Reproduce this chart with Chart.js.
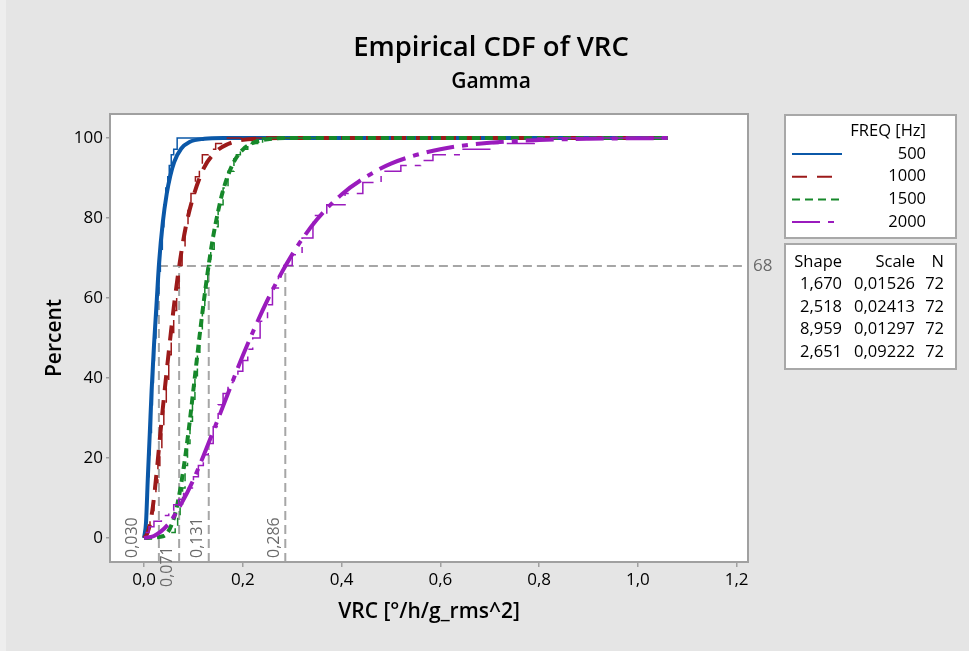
<!DOCTYPE html>
<html>
<head>
<meta charset="utf-8">
<title>Empirical CDF of VRC</title>
<script src="https://cdn.jsdelivr.net/npm/chart.js@4.4.1/dist/chart.umd.min.js"></script>
<style>
  html, body { margin: 0; padding: 0; background: #e5e5e5; }
</style>
</head>
<body>
<canvas id="cdf" width="969" height="651"></canvas>
<script>
const freqs = ['500', '1000', '1500', '2000'];

// fitted gamma curves (thick lines): [VRC, percent]
const fit500 = [[0, 0], [0.004, 4], [0.0076, 15], [0.0115, 26], [0.0153, 37], [0.02, 48], [0.025, 58], [0.0305, 69], [0.038, 79], [0.0458, 86], [0.053, 90.5], [0.061, 94], [0.075, 97.3], [0.092, 99], [0.122, 99.8], [0.16, 100], [1.06, 100]];
const fit1000 = [[0, 0], [0.006, 1], [0.0121, 3.6], [0.018, 8], [0.0241, 14.8], [0.036, 30], [0.0483, 44.6], [0.06, 57.5], [0.0724, 69], [0.084, 77.5], [0.0965, 84], [0.1207, 92.4], [0.1448, 96.5], [0.17, 98.5], [0.193, 99.4], [0.241, 99.9], [0.3, 100], [1.06, 100]];
const fit1500 = [[0, 0], [0.04, 0.5], [0.06, 4.8], [0.07, 10], [0.08, 17.4], [0.09, 26.6], [0.1, 37.2], [0.11, 48], [0.12, 58.2], [0.131, 68.4], [0.14, 75.4], [0.15, 81.7], [0.16, 86.9], [0.18, 93.6], [0.2, 97.1], [0.22, 98.75], [0.25, 99.7], [0.3, 100], [1.06, 100]];
const fit2000 = [[0, 0], [0.02, 0.5], [0.05, 3.6], [0.075, 8.5], [0.1, 14.6], [0.15, 29.8], [0.2, 45.6], [0.25, 59.5], [0.3, 70.9], [0.35, 79.6], [0.4, 85.9], [0.45, 90.3], [0.5, 93.6], [0.6, 97.2], [0.7, 98.8], [0.8, 99.5], [0.9, 99.8], [1.06, 100]];

// empirical steps (thin lines): [VRC, percent]
const emp500 = [[0.002, 1.4], [0.004, 5.6], [0.006, 9.7], [0.008, 15.3], [0.01, 20.8], [0.012, 26.4], [0.015, 33.3], [0.017, 38.9], [0.019, 44.4], [0.021, 50], [0.024, 55.6], [0.027, 61.1], [0.03, 66.7], [0.033, 72.2], [0.037, 77.8], [0.04, 83.3], [0.044, 87.5], [0.048, 90.3], [0.051, 93.1], [0.055, 95.8], [0.06, 97.2], [0.067, 100], [0.2, 100]];
const emp1000 = [[0.004, 1.4], [0.008, 2.8], [0.012, 4.2], [0.016, 6.9], [0.02, 9.7], [0.024, 13.9], [0.028, 18.1], [0.032, 22.2], [0.036, 27.8], [0.04, 33.3], [0.045, 38.9], [0.05, 45.8], [0.055, 51.4], [0.06, 56.9], [0.066, 62.5], [0.071, 68.1], [0.077, 72.2], [0.083, 77.8], [0.089, 81.9], [0.095, 86.1], [0.104, 90.3], [0.112, 93.1], [0.118, 95.8], [0.13, 97.2], [0.145, 98.6], [0.165, 100], [0.3, 100]];
const emp1500 = [[0.055, 1.4], [0.063, 2.8], [0.068, 5.6], [0.073, 8.3], [0.078, 12.5], [0.083, 18.1], [0.088, 23.6], [0.093, 29.2], [0.098, 34.7], [0.103, 40.3], [0.108, 45.8], [0.113, 51.4], [0.118, 56.9], [0.123, 62.5], [0.129, 68.1], [0.135, 72.2], [0.142, 77.8], [0.15, 83.3], [0.16, 87.5], [0.17, 91.7], [0.182, 95.8], [0.195, 97.2], [0.21, 98.6], [0.24, 100], [0.35, 100]];
const emp2000 = [[0.003, 1.4], [0.01, 2.8], [0.02, 4.2], [0.035, 5.6], [0.05, 6.9], [0.06, 8.3], [0.07, 9.7], [0.08, 11.1], [0.09, 12.5], [0.1, 15.3], [0.11, 18.1], [0.12, 20.8], [0.13, 23.6], [0.14, 27.8], [0.15, 33.3], [0.16, 36.1], [0.17, 38.9], [0.18, 40.3], [0.19, 41.7], [0.2, 44.4], [0.21, 47.2], [0.22, 50], [0.235, 54.2], [0.25, 58.3], [0.26, 62.5], [0.272, 65.3], [0.283, 68.1], [0.3, 70.8], [0.32, 75], [0.342, 80.6], [0.37, 83.3], [0.407, 86.1], [0.443, 88.9], [0.48, 91.7], [0.52, 93.1], [0.56, 94.4], [0.585, 95.8], [0.64, 97.2], [0.7, 98.6], [0.79, 100], [1.06, 100]];

const refPercent = 68;
const refValues = [0.030, 0.071, 0.131, 0.286];
const refLabels = ['0,030', '0,071', '0,131', '0,286'];

const xTicks = [0, 0.2, 0.4, 0.6, 0.8, 1.0, 1.2];
const xTickLabels = ['0,0', '0,2', '0,4', '0,6', '0,8', '1,0', '1,2'];
const yTicks = [0, 20, 40, 60, 80, 100];

const shapes = ['1,670', '2,518', '8,959', '2,651'];
const scaleParams = ['0,01526', '0,02413', '0,01297', '0,09222'];
const counts = ['72', '72', '72', '72'];

const colors = ['#0b58a8', '#9c1a1a', '#16882a', '#9a1bbd'];
const dashes = [[], [15, 10], [8, 5], [28, 8, 6, 8]];
const FONT = '"Open Sans", "Noto Sans", sans-serif';
const REF_GREY = '#a6a6a6';

const fits = [fit500, fit1000, fit1500, fit2000];
const emps = [emp500, emp1000, emp1500, emp2000];
const toPts = arr => arr.map(([x, y]) => ({ x, y }));

const datasets = [];
freqs.forEach((f, i) => {
  datasets.push({
    label: f,
    data: toPts(fits[i]),
    borderColor: colors[i],
    borderWidth: 4,
    borderDash: dashes[i],
    borderCapStyle: 'butt',
    pointRadius: 0,
    cubicInterpolationMode: 'monotone',
    order: 8 - i * 2
  });
  datasets.push({
    label: f + ' empirical',
    data: toPts(emps[i]),
    borderColor: colors[i],
    borderWidth: 1.5,
    borderDash: dashes[i],
    pointRadius: 0,
    stepped: true,
    order: 7 - i * 2
  });
});

// grey background, white plot area, reference lines, legend boxes, titles
const decor = {
  id: 'decor',
  beforeDraw(chart) {
    const { ctx, chartArea: a } = chart;
    ctx.save();
    ctx.fillStyle = '#e5e5e5';
    ctx.fillRect(0, 0, chart.width, chart.height);
    ctx.fillStyle = '#eeeeee';
    ctx.fillRect(0, 0, 6, chart.height);
    ctx.fillStyle = '#ffffff';
    ctx.fillRect(a.left, a.top, a.right - a.left, a.bottom - a.top);
    ctx.restore();
  },
  beforeDatasetsDraw(chart) {
    const { ctx, chartArea: a, scales: { x, y } } = chart;
    const yRef = y.getPixelForValue(refPercent);
    ctx.save();
    ctx.strokeStyle = REF_GREY;
    ctx.lineWidth = 2;
    ctx.setLineDash([9, 5]);
    refValues.forEach(v => {
      const px = x.getPixelForValue(v);
      ctx.beginPath();
      ctx.moveTo(px, a.bottom);
      ctx.lineTo(px, yRef);
      ctx.stroke();
    });
    ctx.beginPath();
    ctx.moveTo(x.getPixelForValue(refValues[0]), yRef);
    ctx.lineTo(a.right - 3, yRef);
    ctx.stroke();
    ctx.restore();
  },
  afterDatasetsDraw(chart) {
    const { ctx, chartArea: a, scales: { x, y } } = chart;
    ctx.save();
    // plot frame
    ctx.strokeStyle = '#a0a0a0';
    ctx.lineWidth = 2;
    ctx.strokeRect(a.left, a.top, a.right - a.left, a.bottom - a.top);

    // reference labels
    ctx.fillStyle = '#6a6a6a';
    ctx.textBaseline = 'middle';
    ctx.textAlign = 'left';
    ctx.font = '17px ' + FONT;
    ctx.fillText(String(refPercent), a.right + 5, y.getPixelForValue(refPercent));
    ctx.font = '16px ' + FONT;
    const labelShift = [26, 12, 11, 11];
    const labelBottom = [a.bottom - 4, a.bottom + 25, a.bottom - 4, a.bottom - 4];
    refLabels.forEach((t, i) => {
      ctx.save();
      ctx.translate(x.getPixelForValue(refValues[i]) - labelShift[i], labelBottom[i]);
      ctx.rotate(-Math.PI / 2);
      ctx.fillText(t, 0, 0);
      ctx.restore();
    });

    // titles
    const cx = 491;
    ctx.fillStyle = '#000';
    ctx.textAlign = 'center';
    ctx.font = '600 27.5px ' + FONT;
    ctx.fillText('Empirical CDF of VRC', cx, 48);
    ctx.font = '600 21px ' + FONT;
    ctx.fillText('Gamma', cx, 82);

    // legend box: line styles
    const bx = 785, bw = 171;
    ctx.fillStyle = '#ffffff';
    ctx.strokeStyle = '#a8a8a8';
    ctx.lineWidth = 2;
    ctx.fillRect(bx, 115, bw, 123);
    ctx.strokeRect(bx, 115, bw, 123);
    ctx.fillRect(bx, 244, bw, 125);
    ctx.strokeRect(bx, 244, bw, 125);

    ctx.font = '16.5px ' + FONT;
    ctx.fillStyle = '#000';
    ctx.textAlign = 'right';
    ctx.fillText('FREQ [Hz]', 926, 131);
    freqs.forEach((f, i) => {
      const ry = 154 + i * 22.7;
      ctx.save();
      ctx.strokeStyle = colors[i];
      ctx.lineWidth = 2;
      ctx.setLineDash(dashes[i]);
      ctx.beginPath();
      ctx.moveTo(792, ry);
      ctx.lineTo(842, ry);
      ctx.stroke();
      ctx.restore();
      ctx.fillText(f, 926, ry);
    });

    // legend box: fit parameters
    ctx.fillText('Shape', 842, 262);
    ctx.fillText('Scale', 915, 262);
    ctx.fillText('N', 944, 262);
    shapes.forEach((s, i) => {
      const ry = 284 + i * 22.8;
      ctx.fillText(s, 842, ry);
      ctx.fillText(scaleParams[i], 915, ry);
      ctx.fillText(counts[i], 944, ry);
    });
    ctx.restore();
  }
};

new Chart(document.getElementById('cdf'), {
  type: 'line',
  data: { datasets },
  options: {
    responsive: false,
    animation: false,
    devicePixelRatio: 1,
    layout: { padding: { top: 114, right: 221, left: 0, bottom: 0 } },
    plugins: { legend: { display: false }, tooltip: { enabled: false }, title: { display: false } },
    scales: {
      x: {
        type: 'linear',
        min: -0.069,
        max: 1.223,
        afterFit: s => { s.height = 89; },
        afterBuildTicks: s => { s.ticks = xTicks.map(v => ({ value: v })); },
        grid: { drawOnChartArea: false, drawTicks: true, tickLength: 5, color: '#a0a0a0', lineWidth: 1.5 },
        border: { display: false },
        ticks: {
          padding: 3,
          color: '#000',
          font: { family: FONT, size: 17 },
          maxRotation: 0,
          callback: v => xTickLabels[xTicks.indexOf(v)]
        },
        title: {
          display: true,
          text: 'VRC [°/h/g_rms^2]',
          color: '#000',
          font: { family: FONT, size: 21, weight: '600' },
          padding: { top: 0, bottom: 26 }
        }
      },
      y: {
        type: 'linear',
        min: -6,
        max: 106,
        afterFit: s => { s.width = 110; },
        afterBuildTicks: s => { s.ticks = yTicks.map(v => ({ value: v })); },
        grid: { drawOnChartArea: false, drawTicks: true, tickLength: 4, color: '#a0a0a0', lineWidth: 1.5 },
        border: { display: false },
        ticks: {
          padding: 3,
          color: '#000',
          font: { family: FONT, size: 17 },
          callback: v => String(v)
        },
        title: {
          display: true,
          text: 'Percent',
          color: '#000',
          font: { family: FONT, size: 21, weight: '600' },
          padding: { top: 42, bottom: 0 }
        }
      }
    }
  },
  plugins: [decor]
});
</script>
</body>
</html>
